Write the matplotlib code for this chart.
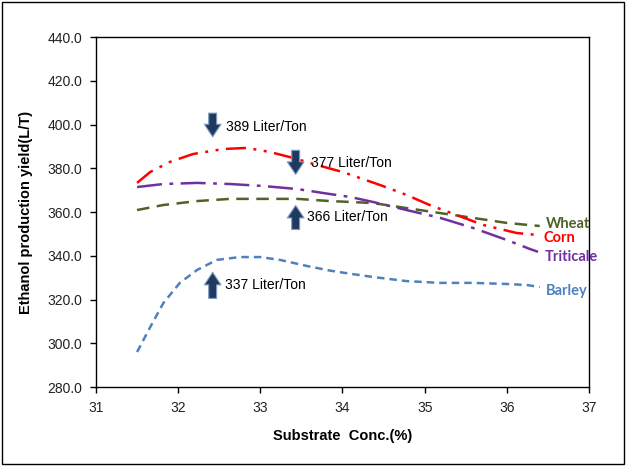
import matplotlib
matplotlib.use("Agg")
import matplotlib.pyplot as plt
from matplotlib.patches import Rectangle
from matplotlib.ticker import FormatStrFormatter

# values
corn_x = [31.50, 31.66, 31.90, 32.18, 32.55, 32.84, 33.12, 33.40, 33.69, 34.00,
          34.46, 34.78, 35.06, 35.39, 35.71, 36.12, 36.37]
corn_y = [373.3, 378.3, 382.9, 386.5, 388.8, 389.3, 387.4, 384.7, 381.5, 378.3,
          372.3, 367.8, 363.2, 358.6, 354.1, 350.4, 349.5]

wheat_x = [31.50, 31.82, 32.23, 32.63, 33.03, 33.45, 33.85, 34.09, 34.37, 34.78,
           35.19, 35.59, 36.00, 36.40]
wheat_y = [360.9, 363.2, 365.0, 366.0, 366.0, 366.0, 365.0, 364.6, 364.1, 361.8,
           359.5, 357.3, 355.0, 353.6]

triticale_x = [31.50, 31.82, 32.23, 32.63, 33.03, 33.45, 33.85, 34.09, 34.37, 34.78,
               35.19, 35.59, 36.00, 36.28, 36.38]
triticale_y = [371.4, 372.8, 373.3, 372.8, 371.9, 370.5, 368.2, 366.9, 364.6, 360.9,
               357.3, 352.7, 347.2, 343.1, 341.8]

barley_x = [31.50, 31.66, 31.82, 32.02, 32.23, 32.47, 32.75, 33.00, 33.24, 33.57,
            33.85, 34.09, 34.37, 34.78, 35.19, 35.59, 36.00, 36.25, 36.40]
barley_y = [296.0, 307.4, 318.4, 327.6, 333.5, 338.1, 339.4, 339.4, 338.1, 335.3,
            333.2, 331.8, 330.3, 328.4, 327.6, 327.6, 327.1, 326.6, 325.7]

series = [
    ("Wheat", wheat_x, wheat_y, "#4F6228", (0, (5, 3))),
    ("Corn", corn_x, corn_y, "#FF0000", (0, (8, 3, 1.2, 3, 1.2, 3))),
    ("Triticale", triticale_x, triticale_y, "#7030A0", (0, (10, 3, 1.5, 3))),
    ("Barley", barley_x, barley_y, "#4F81BD", (0, (3, 2))),
]
label_y = {"Wheat": 354.5, "Corn": 348.0, "Triticale": 339.3, "Barley": 324.0}

# (text, arrow x, arrow tail y, arrow head y, text x, text y)
notes = [
    ("389 Liter/Ton", 32.42, 405.2, 394.4, 32.58, 399.0),
    ("377 Liter/Ton", 33.43, 388.2, 377.2, 33.62, 382.2),
    ("366 Liter/Ton", 33.43, 352.0, 363.0, 33.57, 357.8),
    ("337 Liter/Ton", 32.42, 320.5, 332.4, 32.57, 326.6),
]

fig = plt.figure(figsize=(6.27, 4.66), dpi=100)
ax = fig.add_axes([0.1531, 0.1695, 0.9394 - 0.1531, 0.9206 - 0.1695])

for name, xs, ys, col, ls in series:
    ax.plot(xs, ys, color=col, linestyle=ls, linewidth=1.8)
    ax.text(xs[-1] + 0.08, label_y[name], name, color=col, fontsize=10.5,
            fontweight="bold", family="Lato", va="center", ha="left")

for txt, ax_x, y0, y1, tx, ty in notes:
    ax.annotate("", xy=(ax_x, y1), xytext=(ax_x, y0),
                arrowprops=dict(arrowstyle="simple,head_length=0.6,head_width=0.8,tail_width=0.38",
                                fc="#1F3A5F", ec="#7F9CC0", lw=0.8, mutation_scale=15,
                                shrinkA=0, shrinkB=0))
    ax.text(tx, ty, txt, fontsize=10, family="Liberation Sans", va="center", ha="left")

ax.set_xlim(31, 37)
ax.set_ylim(280, 440)
ax.set_xticks(range(31, 38))
ax.set_yticks(range(280, 441, 20))
ax.yaxis.set_major_formatter(FormatStrFormatter("%.1f"))
for lab in ax.get_xticklabels() + ax.get_yticklabels():
    lab.set_family("Liberation Sans")
    lab.set_fontsize(10)
    lab.set_color("#222222")
ax.tick_params(direction="out", length=4, width=1, pad=6)
for sp in ax.spines.values():
    sp.set_linewidth(1.0)
    sp.set_color("black")

ax.set_xlabel("Substrate  Conc.(%)", fontsize=10.5, fontweight="bold",
              family="Liberation Sans", labelpad=10)
ax.set_ylabel("Ethanol production yield(L/T)", fontsize=10.5, fontweight="bold",
              family="Liberation Sans", labelpad=10)

fig.patches.append(Rectangle((0.003, 0.004), 0.993, 0.992, transform=fig.transFigure,
                             fill=False, ec="black", lw=1.0))

fig.savefig("out.png", dpi=100)
